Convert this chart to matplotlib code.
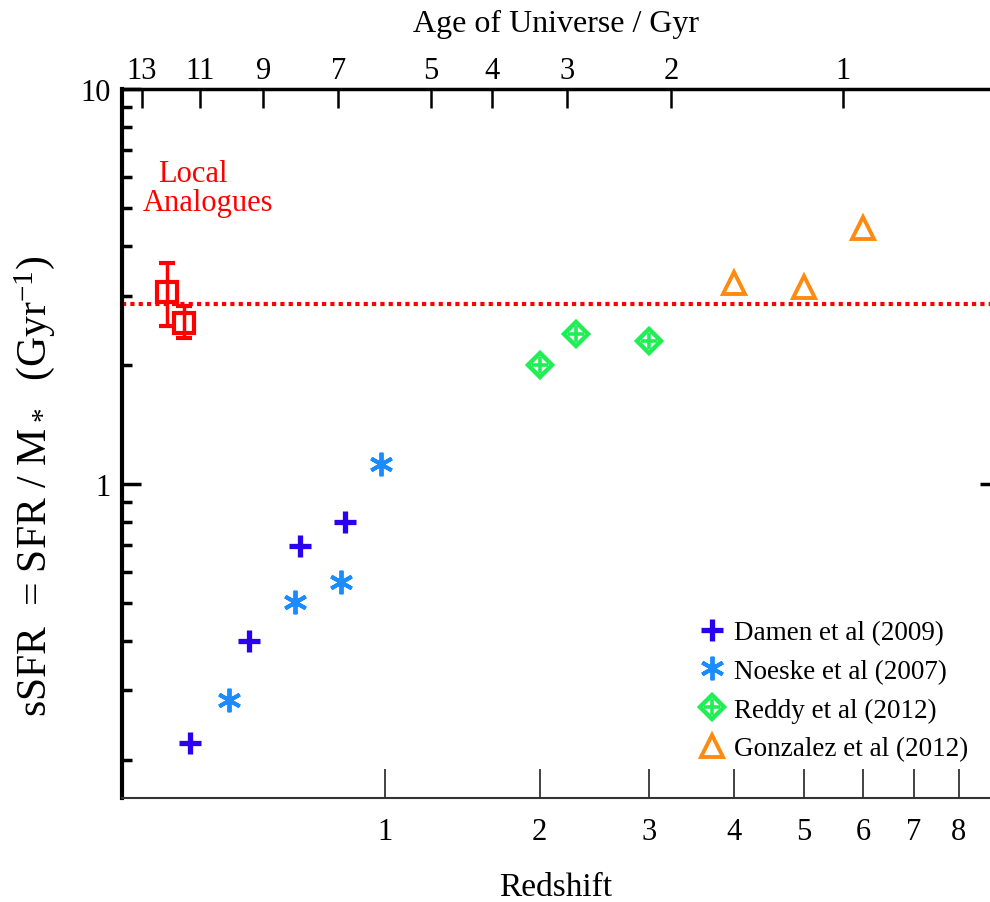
import matplotlib
matplotlib.use("Agg")
import matplotlib.pyplot as plt
from matplotlib.ticker import FixedLocator, FixedFormatter, NullLocator, NullFormatter, FuncFormatter

plt.rcParams['font.family'] = ['Liberation Serif', 'DejaVu Serif']
plt.rcParams['mathtext.fontset'] = 'custom'
plt.rcParams['mathtext.rm'] = 'Liberation Serif'
plt.rcParams['mathtext.default'] = 'regular'

# specific star formation rate (Gyr^-1) against redshift
damen_z = [0.2, 0.4, 0.6, 0.8]
damen_ssfr = [0.221, 0.401, 0.698, 0.803]

noeske_z = [0.33, 0.58, 0.78, 0.98]
noeske_ssfr = [0.283, 0.502, 0.564, 1.124]

reddy_z = [2.0, 2.3, 3.0]
reddy_ssfr = [2.005, 2.398, 2.306]

gonzalez_z = [4.0, 5.0, 6.0]
gonzalez_ssfr = [3.23, 3.15, 4.46]

local_z = [0.13, 0.18]
local_ssfr = [3.07, 2.55]
local_err_lo = [0.56, 0.21]
local_err_hi = [0.56, 0.27]
local_level = 2.85

z_ticks = [1, 2, 3, 4, 5, 6, 7, 8]
age_ticks = [13, 11, 9, 7, 5, 4, 3, 2, 1]
age_tick_z = [0.057, 0.231, 0.453, 0.769, 1.257, 1.646, 2.221, 3.231, 5.653]

DAMEN = '#2b00ee'
NOESKE = '#1a8cff'
REDDY = '#1fee55'
GONZALEZ = '#ff8a10'
LOCAL = '#ff0000'


def opz(zs):
    # the x axis is logarithmic in (1 + z)
    return [1 + z for z in zs]


fig = plt.figure(figsize=(9.9, 9.03), dpi=100)
ax = fig.add_axes([0.1232, 0.1152, 0.8768, 0.7851])
ax.set_xscale('log')
ax.set_yscale('log')
ax.set_xlim(1.0035, 9.77)
ax.set_ylim(0.1603, 10)

ax.axhline(local_level, color=LOCAL, lw=3, ls=(0, (1, 1)), zorder=1)

h_damen, = ax.plot(opz(damen_z), damen_ssfr, ls='none', marker='+', ms=16, mew=3.8,
                   color=DAMEN)
h_noeske, = ax.plot(opz(noeske_z), noeske_ssfr, ls='none', marker=(6, 2, 0), ms=17,
                    mew=2.8, color=NOESKE)
h_reddy_d, = ax.plot(opz(reddy_z), reddy_ssfr, ls='none', marker='D', ms=12, mfc='white',
                     mec=REDDY, mew=3.2)
h_reddy_p, = ax.plot(opz(reddy_z), reddy_ssfr, ls='none', marker='+', ms=12, mew=2.6,
                     color=REDDY)
h_gonz, = ax.plot(opz(gonzalez_z), gonzalez_ssfr, ls='none', marker='^', ms=16,
                  mfc='none', mec=GONZALEZ, mew=2.8)
ax.errorbar(opz(local_z), local_ssfr, yerr=[local_err_lo, local_err_hi], fmt='s', ms=14,
            mfc='none', mec=LOCAL, mew=3, ecolor=LOCAL, elinewidth=2.5, capsize=6,
            capthick=2.5)

ax.text(0.082, 0.870, 'Local', transform=ax.transAxes, ha='center', va='baseline',
        fontsize=22, color=LOCAL)
ax.text(0.099, 0.830, 'Analogues', transform=ax.transAxes, ha='center', va='baseline',
        fontsize=22, color=LOCAL)

# bottom axis: redshift
ax.xaxis.set_major_locator(FixedLocator(opz(z_ticks)))
ax.xaxis.set_major_formatter(FixedFormatter([str(z) for z in z_ticks]))
ax.xaxis.set_minor_locator(NullLocator())
ax.tick_params(axis='x', direction='in', length=21, width=1.2, color='#222222',
               labelsize=22, pad=14, top=False)
ax.set_xlabel('Redshift', fontsize=24, labelpad=18)

# left axis: sSFR
ax.yaxis.set_major_formatter(FuncFormatter(lambda v, _: f'{v:g}'))
ax.yaxis.set_minor_formatter(NullFormatter())
ax.tick_params(axis='y', which='major', direction='in', length=14, width=2.5,
               labelsize=22, pad=8)
ax.tick_params(axis='y', which='minor', direction='in', length=7, width=2.5)
ax.set_ylabel('sSFR  = SFR / M$_*$  (Gyr$^{-1}$)', fontsize=30)
ax.yaxis.set_label_coords(-0.075, 0.4415)

ax.spines['left'].set_linewidth(3)
ax.spines['bottom'].set_linewidth(1.5)
ax.spines['bottom'].set_color('#333333')
ax.spines['top'].set_visible(False)
ax.spines['right'].set_visible(False)

# right side: a single short tick at the decades
axr = ax.twinx()
axr.set_yscale('log')
axr.set_ylim(ax.get_ylim())
axr.yaxis.set_major_locator(FixedLocator([1]))
axr.yaxis.set_minor_locator(NullLocator())
axr.yaxis.set_major_formatter(NullFormatter())
axr.tick_params(axis='y', direction='in', length=7, width=2.5)
for s in axr.spines.values():
    s.set_visible(False)

# top axis: age of the universe
axt = ax.twiny()
axt.set_xscale('log')
axt.set_xlim(ax.get_xlim())
axt.xaxis.set_major_locator(FixedLocator(opz(age_tick_z)))
axt.xaxis.set_major_formatter(FixedFormatter([str(a) for a in age_ticks]))
axt.xaxis.set_minor_locator(NullLocator())
axt.tick_params(axis='x', direction='in', length=14, width=1.8, labelsize=22, pad=3)
axt.set_xlabel('Age of Universe / Gyr', fontsize=23, labelpad=18)
for side in ['left', 'right', 'bottom']:
    axt.spines[side].set_visible(False)
axt.spines['top'].set_linewidth(2.5)

handles = [h_damen, h_noeske, (h_reddy_d, h_reddy_p), h_gonz]
labels = ['Damen et al (2009)', 'Noeske et al (2007)', 'Reddy et al (2012)',
          'Gonzalez et al (2012)']
ax.legend(handles, labels, loc='lower right', bbox_to_anchor=(0.975, 0.052),
          frameon=False, fontsize=19.5, handlelength=1.0, handletextpad=0.3,
          labelspacing=0.5, borderpad=0, borderaxespad=0)

fig.savefig('out.png', dpi=100)
